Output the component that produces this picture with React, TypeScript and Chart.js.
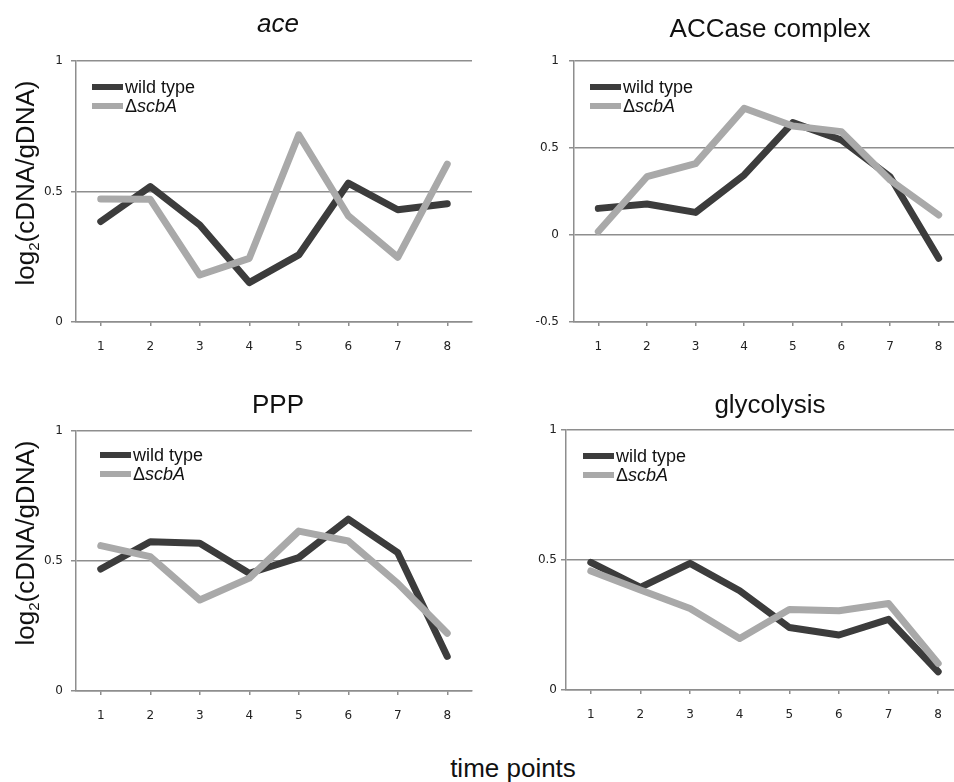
import React, { useEffect, useRef } from "react";
import { Chart, registerables } from "chart.js";

Chart.register(...registerables);

// ---------- data ----------
const timePoints = ["1", "2", "3", "4", "5", "6", "7", "8"];
const wildTypeName = "wild type";
const mutantName = "ΔscbA";

const aceWildType = [0.385, 0.519, 0.372, 0.151, 0.257, 0.532, 0.43, 0.453];
const aceScbA = [0.471, 0.47, 0.18, 0.244, 0.717, 0.407, 0.248, 0.605];

const accaseWildType = [0.153, 0.178, 0.13, 0.345, 0.646, 0.546, 0.335, -0.134];
const accaseScbA = [0.02, 0.335, 0.41, 0.728, 0.626, 0.594, 0.316, 0.115];

const pppWildType = [0.469, 0.574, 0.568, 0.453, 0.513, 0.661, 0.532, 0.133];
const pppScbA = [0.559, 0.517, 0.35, 0.434, 0.615, 0.577, 0.414, 0.222];

const glycolysisWildType = [0.49, 0.394, 0.486, 0.381, 0.24, 0.211, 0.271, 0.07];
const glycolysisScbA = [0.457, 0.384, 0.313, 0.198, 0.309, 0.304, 0.332, 0.102];

const yRangeDefault = [0, 1];
const yRangeAccase = [-0.5, 1];
const yStep = 0.5;

// ---------- styles ----------
const DARK = "#3c3c3c";
const LIGHT = "#a9a9a9";
const GRID = "#8e8e8e";
const TEXT_FONT = "'Liberation Sans', Arial, sans-serif";
const TICK_FONT = "'DejaVu Sans', Verdana, sans-serif";

type PanelProps = {
  title: string;
  italic: boolean;
  wild: number[];
  mutant: number[];
  yRange: number[];
  left: number;
  top: number;
  width: number;
  height: number;
  padTop: number;
  padRight: number;
  yWidth: number;
  xHeight: number;
  yTickPad: number;
  titleCx: number;
  titleTop: number;
  legendLeft: number;
  legendTop: number;
};

function Panel(p: PanelProps) {
  const ref = useRef<HTMLCanvasElement | null>(null);
  useEffect(() => {
    if (!ref.current) return;
    const chart = new Chart(ref.current, {
      type: "line",
      data: {
        labels: timePoints,
        datasets: [
          {
            label: wildTypeName,
            data: p.wild,
            borderColor: DARK,
            backgroundColor: DARK,
            borderWidth: 7,
            pointRadius: 0,
            tension: 0,
            fill: false,
            borderJoinStyle: "round",
            borderCapStyle: "round",
            order: 1,
          },
          {
            label: mutantName,
            data: p.mutant,
            borderColor: LIGHT,
            backgroundColor: LIGHT,
            borderWidth: 7,
            pointRadius: 0,
            tension: 0,
            fill: false,
            borderJoinStyle: "round",
            borderCapStyle: "round",
            order: 0,
          },
        ],
      },
      options: {
        animation: false,
        responsive: false,
        maintainAspectRatio: false,
        events: [],
        layout: { padding: { top: p.padTop, right: p.padRight, left: 0, bottom: 0 } },
        plugins: {
          legend: { display: false },
          tooltip: { enabled: false },
          title: { display: false },
        },
        scales: {
          x: {
            type: "category",
            offset: true,
            afterFit: (s: any) => {
              s.height = p.xHeight;
            },
            grid: {
              offset: false,
              drawOnChartArea: false,
              drawTicks: true,
              tickLength: 4,
              color: GRID,
              lineWidth: 1.5,
            },
            border: { display: true, color: GRID, width: 1.5 },
            ticks: {
              padding: 14,
              color: "#222",
              font: { family: TICK_FONT, size: 12 },
              maxRotation: 0,
              autoSkip: false,
            },
          },
          y: {
            min: p.yRange[0],
            max: p.yRange[1],
            afterFit: (s: any) => {
              s.width = p.yWidth;
            },
            ticks: {
              stepSize: yStep,
              padding: p.yTickPad,
              color: "#222",
              font: { family: TICK_FONT, size: 12 },
              callback: (v: any) => String(Number(v)),
            },
            grid: { color: GRID, lineWidth: 1.5, tickLength: 5, drawTicks: true },
            border: { display: true, color: GRID, width: 1.5 },
          },
        },
      },
    });
    return () => chart.destroy();
  }, []);

  const rowStyle: React.CSSProperties = {
    display: "flex",
    alignItems: "center",
    height: 18.5,
    lineHeight: "18.5px",
    fontSize: 18,
    color: "#111",
    whiteSpace: "nowrap",
  };
  const swatch = (c: string): React.CSSProperties => ({
    display: "inline-block",
    width: 31,
    height: 6,
    background: c,
    marginRight: 2,
  });

  return (
    <>
      <canvas
        ref={ref}
        width={p.width}
        height={p.height}
        style={{ position: "absolute", left: p.left, top: p.top, width: p.width, height: p.height }}
      />
      <div
        style={{
          position: "absolute",
          left: p.titleCx - 150,
          top: p.titleTop,
          width: 300,
          textAlign: "center",
          fontSize: 26,
          lineHeight: "26px",
          fontStyle: p.italic ? "italic" : "normal",
          color: "#111",
          whiteSpace: "nowrap",
        }}
      >
        {p.title}
      </div>
      <div style={{ position: "absolute", left: p.legendLeft, top: p.legendTop }}>
        <div style={rowStyle}>
          <span style={swatch(DARK)} />
          <span>{wildTypeName}</span>
        </div>
        <div style={rowStyle}>
          <span style={swatch(LIGHT)} />
          <span>
            {mutantName.charAt(0)}
            <i>{mutantName.slice(1)}</i>
          </span>
        </div>
      </div>
    </>
  );
}

function YLabel({ cx, cy }: { cx: number; cy: number }) {
  return (
    <div
      style={{
        position: "absolute",
        left: cx - 140,
        top: cy - 13,
        width: 280,
        height: 26,
        lineHeight: "26px",
        fontSize: 26,
        textAlign: "center",
        transform: "rotate(-90deg)",
        color: "#111",
        whiteSpace: "nowrap",
      }}
    >
      log<sub style={{ fontSize: 15, verticalAlign: "-5px", lineHeight: 0 }}>2</sub>(cDNA/gDNA)
    </div>
  );
}

export default function App() {
  return (
    <div
      style={{
        position: "absolute",
        left: 0,
        top: 0,
        width: 954,
        height: 782,
        overflow: "hidden",
        background: "#fff",
        fontFamily: TEXT_FONT,
      }}
    >
      <Panel
        title="ace"
        italic={true}
        wild={aceWildType}
        mutant={aceScbA}
        yRange={yRangeDefault}
        left={0}
        top={0}
        width={477}
        height={370}
        padTop={61}
        padRight={5}
        yWidth={76}
        xHeight={48}
        yTickPad={8}
        titleCx={278}
        titleTop={10}
        legendLeft={92}
        legendTop={78}
      />
      <Panel
        title="ACCase complex"
        italic={false}
        wild={accaseWildType}
        mutant={accaseScbA}
        yRange={yRangeAccase}
        left={477}
        top={0}
        width={490}
        height={370}
        padTop={61}
        padRight={4}
        yWidth={97}
        xHeight={48}
        yTickPad={10}
        titleCx={770}
        titleTop={15}
        legendLeft={590}
        legendTop={78}
      />
      <Panel
        title="PPP"
        italic={false}
        wild={pppWildType}
        mutant={pppScbA}
        yRange={yRangeDefault}
        left={0}
        top={370}
        width={477}
        height={370}
        padTop={61}
        padRight={5}
        yWidth={76}
        xHeight={49}
        yTickPad={8}
        titleCx={278}
        titleTop={391}
        legendLeft={100}
        legendTop={446}
      />
      <Panel
        title="glycolysis"
        italic={false}
        wild={glycolysisWildType}
        mutant={glycolysisScbA}
        yRange={yRangeDefault}
        left={477}
        top={370}
        width={490}
        height={370}
        padTop={59.5}
        padRight={4}
        yWidth={89}
        xHeight={50}
        yTickPad={4}
        titleCx={770}
        titleTop={391}
        legendLeft={583}
        legendTop={447}
      />
      <YLabel cx={24.5} cy={183} />
      <YLabel cx={24.5} cy={543} />
      <div
        style={{
          position: "absolute",
          left: 513 - 150,
          top: 755,
          width: 300,
          textAlign: "center",
          fontSize: 26,
          lineHeight: "26px",
          color: "#111",
        }}
      >
        time points
      </div>
    </div>
  );
}
